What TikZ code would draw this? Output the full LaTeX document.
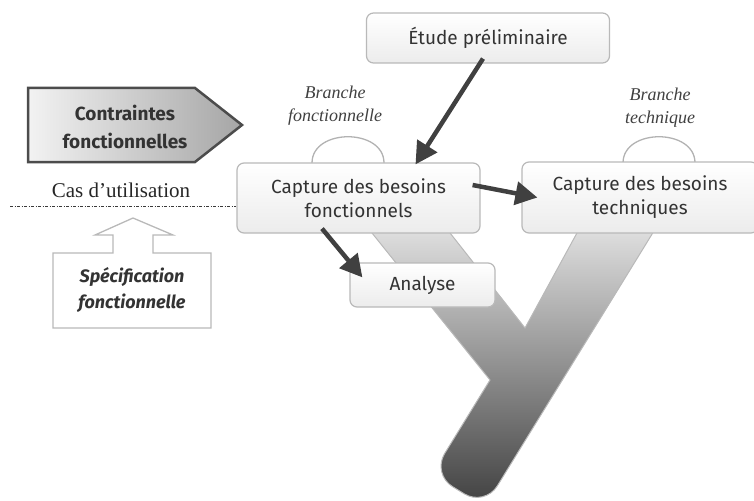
\documentclass[tikz,border=0pt]{standalone}
\usepackage{fontspec}
\setmainfont{Fira Sans}
\newfontfamily\fontserif{Liberation Serif}
\usetikzlibrary{
  arrows.meta,
  positioning,
  calc
}

\begin{document}
\begin{tikzpicture}[
      x=1pt, y=-1pt,
      boite/.style={draw=gray!55, line width=1.2pt, rounded corners=7pt, top color=white, bottom color=gray!15, inner sep=0pt, align=center, text=black!80, font=\fontsize{19}{24}\selectfont},
      fleche/.style={-{Triangle[length=22pt,width=23pt]}, line width=4.5pt, draw=black!75},
      branche/.style={align=center, text=black!75, font=\fontserif\itshape\fontsize{18}{23}\selectfont},
      demicercle/.style={draw=gray!60, line width=1.3pt},
      yforme/.style={draw=gray!55, line width=1pt, top color=gray!12, bottom color=black!75},
      contrforme/.style={draw=black!70, line width=2.5pt, left color=gray!10, right color=gray!70},
      specforme/.style={draw=gray!55, line width=1.3pt, fill=white}
  ]
      \useasboundingbox (0,0) rectangle (754,500);

      % Le Y
      \draw[yforme] (345.5,200) -- (490,380) [rounded corners=24pt] -- (432,474) -- (484.7,506.4) [sharp corners] -- (673,200) -- (595,200) -- (525,328) -- (424,200) -- cycle;

      % Demi-cercles des branches
      \draw[demicercle] (312,163) .. controls (312,128) and (384,128) .. (384,163);
      \draw[demicercle] (623,163) .. controls (623,128) and (695,128) .. (695,163);

      % Etapes
      \node[boite, minimum width=243pt, minimum height=50pt] (etude) at (488,38) {Étude préliminaire};
      \node[boite, minimum width=243pt, minimum height=70pt] (capfonc) at (358.5,198) {Capture des besoins\\fonctionnels};
      \node[boite, minimum width=236pt, minimum height=71pt] (captech) at (640,197.5) {Capture des besoins\\techniques};
      \node[boite, minimum width=145pt, minimum height=44pt] (analyse) at (422.5,285) {Analyse};

      % Branches
      \node[branche] (brfonc) at (335,106) {Branche\\fonctionnelle};
      \node[branche] (brtech) at (660,108) {Branche\\technique};

      % Entrees a gauche
      \draw[contrforme] (28,88) -- (195,88) -- (242,125) -- (195,162) -- (28,162) -- cycle;
      \node[align=center, text=black!80, font=\bfseries\fontsize{19}{28}\selectfont] (contr) at (125,127) {Contraintes\\fonctionnelles};

      \node[text=black!85, font=\fontserif\fontsize{21}{24}\selectfont] (cas) at (121,190) {Cas d’utilisation};
      \coordinate (debut) at (10,206);
      \draw[gray!45!black, line width=1pt, dash pattern=on 3pt off 1.5pt on 1pt off 1.5pt] (debut) -- (debut -| capfonc.west);

      \draw[specforme] (53,253) -- (113,253) -- (113,235) -- (95,235) -- (133,218) -- (173,235) -- (153,235) -- (153,253) -- (211,253) -- (211,328) -- (53,328) -- cycle;
      \node[align=center, text=black!80, font=\bfseries\itshape\fontsize{18}{26}\selectfont] (spec) at (132,290) {Spécification\\fonctionnelle};

      % Fleches
      \draw[fleche] ($(etude.south)+(-5,-5)$) -- ($(capfonc.north)+(57,2)$);
      \draw[fleche] ($(capfonc.east)+(-8,-13)$) -- ($(captech.west)+(16,0)$);
      \draw[fleche] ($(capfonc.south)+(-36.5,-5)$) -- ($(analyse.north west)+(13,15)$);
  \end{tikzpicture}
\end{document}
